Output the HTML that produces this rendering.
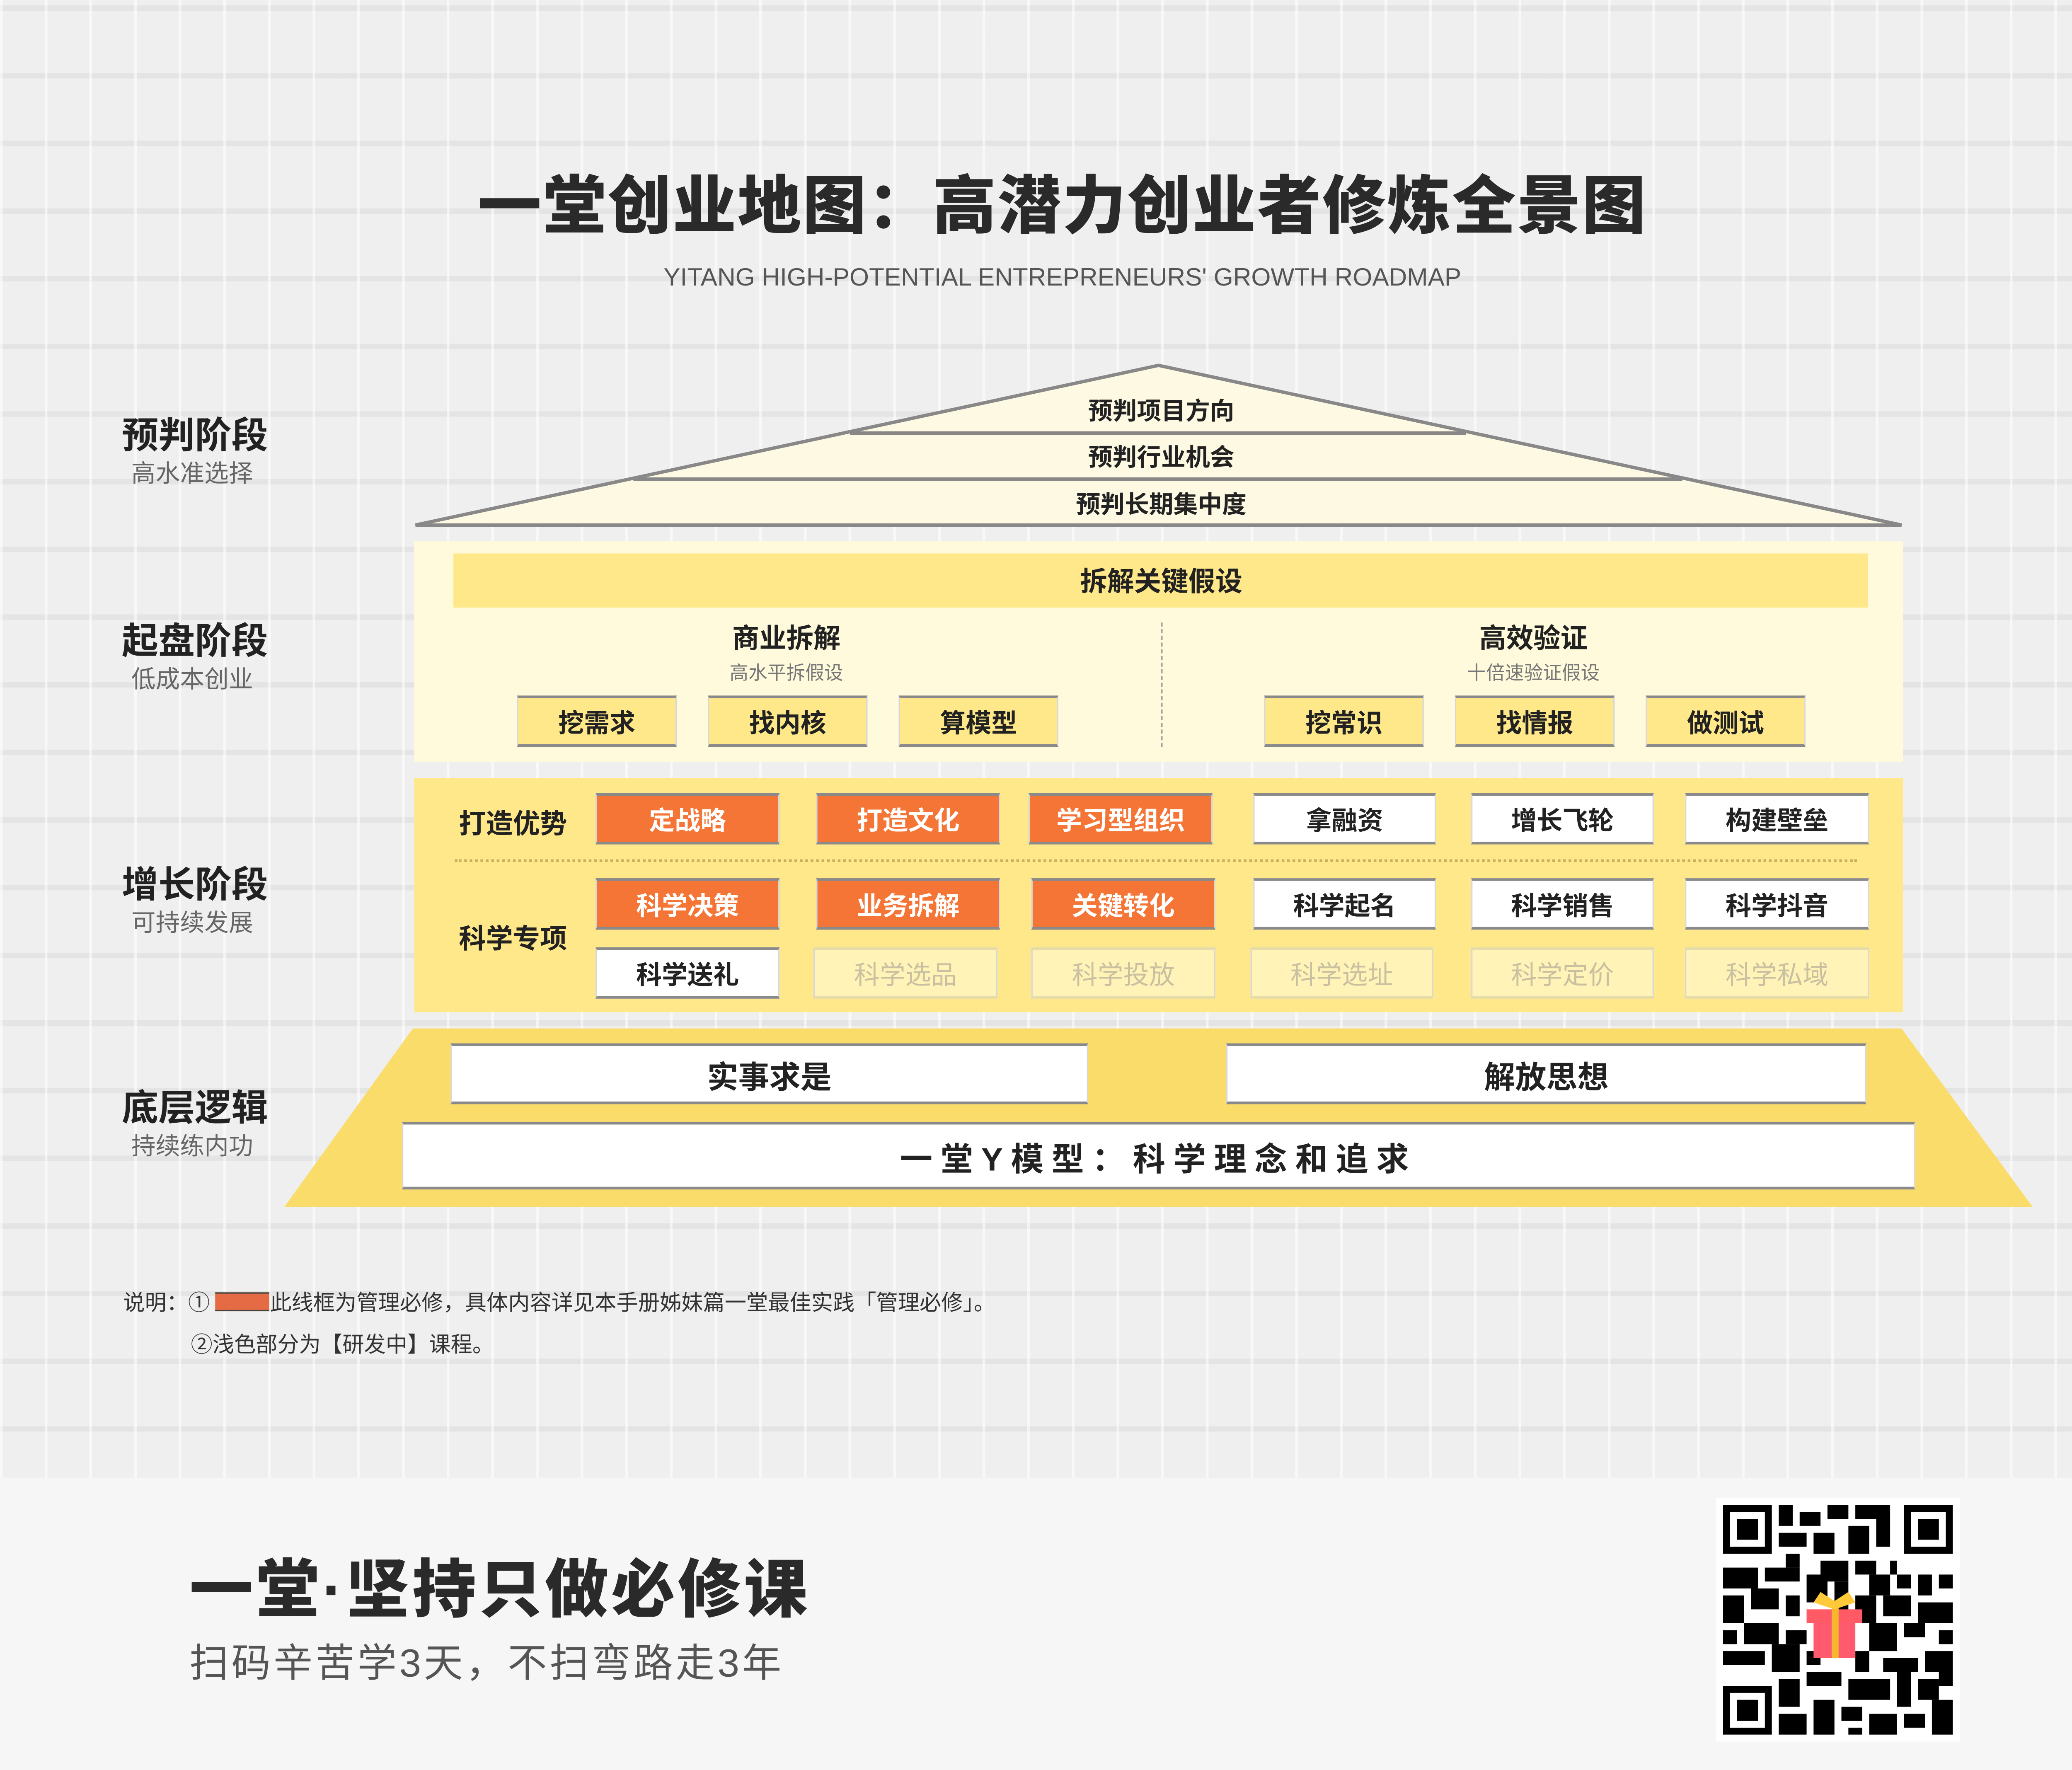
<!DOCTYPE html>
<html><head><meta charset="utf-8"><style>
html,body{margin:0;padding:0;width:5121px;height:4271px;overflow:hidden;background:#f0f0f0}
#w{position:absolute;left:0;top:0;width:1568px;height:1308px;transform-origin:0 0;transform:scale(3.26594,3.26529);font-family:"Liberation Sans","Noto Sans CJK SC",sans-serif;color:#222;
background-color:#efefef;
background-image:repeating-linear-gradient(90deg,rgba(255,255,255,.55) 0 2px,transparent 2px 33px),repeating-linear-gradient(0deg,rgba(225,225,225,.8) 0 4px,transparent 4px 50px)}
.a{position:absolute}
.t{position:absolute;white-space:nowrap;transform:translate(-50%,-50%)}
.b{position:absolute;box-sizing:border-box;border-top:2px solid #8a8a8a;border-bottom:2px solid #8a8a8a;border-left:1px solid #d8d8d8;border-right:1px solid #d8d8d8;display:flex;align-items:center;justify-content:center;font-weight:bold;font-size:19px;color:#222}
.y{background:#ffe88a}
.o{background:#f47535;color:#fff}
.wh{background:#fff}
.lt{background:#fff3b8;color:#c8c0a0;border-top:2px solid #e6dca8;border-bottom:2px solid #e6dca8;font-weight:normal}
.lab{position:absolute;left:90px;font-weight:bold;font-size:27px;color:#222}
.sub{position:absolute;left:97px;font-size:18px;color:#666}
</style></head><body><div id="w">
<div class="t" style="left:785px;top:148px;font-size:47px;font-weight:900;color:#2a2a2a;letter-spacing:1px">一堂创业地图：高潜力创业者修炼全景图</div>
<div class="t" style="left:785px;top:205px;font-size:18.5px;color:#555;letter-spacing:0px">YITANG HIGH-POTENTIAL ENTREPRENEURS' GROWTH ROADMAP</div>

<div class="lab" style="top:300px">预判阶段</div><div class="sub" style="top:336px">高水准选择</div>
<div class="lab" style="top:452px">起盘阶段</div><div class="sub" style="top:488px">低成本创业</div>
<div class="lab" style="top:632px">增长阶段</div><div class="sub" style="top:668px">可持续发展</div>
<div class="lab" style="top:797px">底层逻辑</div><div class="sub" style="top:833px">持续练内功</div>

<svg class="a" style="left:0;top:0" width="1568" height="1308">
<polygon points="856,270 1405,388 307,388" fill="#fdf9e2" stroke="#888" stroke-width="2.5"/>
<line x1="628" y1="320" x2="1083" y2="320" stroke="#888" stroke-width="2.5"/>
<line x1="468" y1="354" x2="1243" y2="354" stroke="#888" stroke-width="2.5"/>
<polygon points="305,760 1405,760 1502,892 210,892" fill="#f9dc6a"/>
</svg>
<div class="t" style="left:858px;top:303px;font-size:18px;font-weight:bold">预判项目方向</div>
<div class="t" style="left:858px;top:337px;font-size:18px;font-weight:bold">预判行业机会</div>
<div class="t" style="left:858px;top:372px;font-size:18px;font-weight:bold">预判长期集中度</div>

<div class="a" style="left:306px;top:400px;width:1100px;height:163px;background:#fffadc"></div>
<div class="a" style="left:335px;top:409px;width:1045px;height:40px;background:#ffe88a"></div>
<div class="t" style="left:858px;top:428px;font-size:20px;font-weight:bold">拆解关键假设</div>
<div class="t" style="left:581px;top:470px;font-size:20px;font-weight:bold">商业拆解</div>
<div class="t" style="left:581px;top:497px;font-size:14px;color:#777">高水平拆假设</div>
<div class="t" style="left:1133px;top:470px;font-size:20px;font-weight:bold">高效验证</div>
<div class="t" style="left:1133px;top:497px;font-size:14px;color:#777">十倍速验证假设</div>
<div class="a" style="left:858px;top:460px;height:92px;border-left:1px dashed #999"></div>
<div class="b y" style="left:382px;top:514px;width:118px;height:38px">挖需求</div>
<div class="b y" style="left:523px;top:514px;width:118px;height:38px">找内核</div>
<div class="b y" style="left:664px;top:514px;width:118px;height:38px">算模型</div>
<div class="b y" style="left:934px;top:514px;width:118px;height:38px">挖常识</div>
<div class="b y" style="left:1075px;top:514px;width:118px;height:38px">找情报</div>
<div class="b y" style="left:1216px;top:514px;width:118px;height:38px">做测试</div>

<div class="a" style="left:306px;top:575px;width:1100px;height:173px;background:#ffe88a"></div>
<div class="t" style="left:379px;top:607px;font-size:20px;font-weight:bold">打造优势</div>
<div class="t" style="left:379px;top:692px;font-size:20px;font-weight:bold">科学专项</div>
<div class="a" style="left:336px;top:635px;width:1036px;border-top:2px dotted #c8b060"></div>
<div class="b o" style="left:440px;top:586px;width:136px;height:38px">定战略</div>
<div class="b o" style="left:603px;top:586px;width:136px;height:38px">打造文化</div>
<div class="b o" style="left:760px;top:586px;width:136px;height:38px">学习型组织</div>
<div class="b wh" style="left:926px;top:586px;width:135px;height:38px">拿融资</div>
<div class="b wh" style="left:1087px;top:586px;width:135px;height:38px">增长飞轮</div>
<div class="b wh" style="left:1245px;top:586px;width:136px;height:38px">构建壁垒</div>
<div class="b o" style="left:440px;top:649px;width:136px;height:38px">科学决策</div>
<div class="b o" style="left:603px;top:649px;width:136px;height:38px">业务拆解</div>
<div class="b o" style="left:762px;top:649px;width:136px;height:38px">关键转化</div>
<div class="b wh" style="left:926px;top:649px;width:135px;height:38px">科学起名</div>
<div class="b wh" style="left:1087px;top:649px;width:135px;height:38px">科学销售</div>
<div class="b wh" style="left:1245px;top:649px;width:136px;height:38px">科学抖音</div>
<div class="b wh" style="left:440px;top:700px;width:136px;height:38px">科学送礼</div>
<div class="b lt" style="left:601px;top:700px;width:136px;height:38px">科学选品</div>
<div class="b lt" style="left:762px;top:700px;width:136px;height:38px">科学投放</div>
<div class="b lt" style="left:924px;top:700px;width:135px;height:38px">科学选址</div>
<div class="b lt" style="left:1087px;top:700px;width:135px;height:38px">科学定价</div>
<div class="b lt" style="left:1245px;top:700px;width:136px;height:38px">科学私域</div>

<div class="b wh" style="left:333px;top:771px;width:471px;height:45px;font-size:23px">实事求是</div>
<div class="b wh" style="left:906px;top:771px;width:473px;height:45px;font-size:23px">解放思想</div>
<div class="b wh" style="left:297px;top:829px;width:1118px;height:50px;font-size:24px;letter-spacing:6px">一堂Y模型：科学理念和追求</div>

<div class="a" style="left:91px;top:949px;font-size:16px;color:#333">说明：① <span style="display:inline-block;width:40px;height:12px;background:#e56b44;border-top:1px solid #444;border-bottom:1px solid #444;vertical-align:-1px"></span>此线框为管理必修，具体内容详见本手册姊妹篇一堂最佳实践「管理必修」。</div>
<div class="a" style="left:141px;top:980px;font-size:16px;color:#333">②浅色部分为【研发中】课程。</div>

<div class="a" style="left:0;top:1092px;width:1568px;height:216px;background:#f6f6f6"></div>
<div class="a" style="left:140px;top:1136px;font-size:47px;font-weight:900;color:#2a2a2a;letter-spacing:2px">一堂·坚持只做必修课</div>
<div class="a" style="left:140px;top:1206px;font-size:29px;color:#555;letter-spacing:2px">扫码辛苦学3天，不扫弯路走3年</div>

<svg class="a" style="left:1268px;top:1107px" width="180" height="180" viewBox="-1 -1 35 35">
<rect x="-1" y="-1" width="35" height="35" fill="#fff"/>
<g fill="#000">
<path d="M0 0h7v7h-7zM1 1v5h5v-5zM2 2h3v3h-3z" fill-rule="evenodd"/>
<path d="M26 0h7v7h-7zM27 1v5h5v-5zM28 2h3v3h-3z" fill-rule="evenodd"/>
<path d="M0 26h7v7h-7zM1 27v5h5v-5zM2 28h3v3h-3z" fill-rule="evenodd"/>
<rect x="8" y="0" width="2" height="3"/><rect x="11" y="1" width="3" height="2"/><rect x="15" y="0" width="3" height="2"/><rect x="19" y="0" width="5" height="2"/><rect x="22" y="2" width="2" height="4"/><rect x="8" y="4" width="4" height="2"/><rect x="13" y="4" width="3" height="3"/><rect x="18" y="3" width="3" height="4"/><rect x="9" y="7" width="2" height="2"/><rect x="14" y="8" width="4" height="3"/><rect x="19" y="8" width="3" height="2"/><rect x="24" y="8" width="1" height="2"/>
<rect x="0" y="9" width="5" height="3"/><rect x="6" y="9" width="5" height="2"/><rect x="12" y="10" width="3" height="4"/><rect x="16" y="11" width="2" height="5"/><rect x="21" y="10" width="3" height="3"/><rect x="25" y="10" width="2" height="2"/><rect x="28" y="10" width="2" height="3"/><rect x="31" y="10" width="2" height="2"/>
<rect x="0" y="13" width="3" height="4"/><rect x="4" y="12" width="4" height="3"/><rect x="9" y="13" width="2" height="3"/><rect x="19" y="13" width="3" height="4"/><rect x="23" y="13" width="4" height="3"/><rect x="28" y="14" width="5" height="3"/>
<rect x="0" y="18" width="2" height="2"/><rect x="3" y="17" width="5" height="3"/><rect x="9" y="18" width="3" height="2"/><rect x="21" y="17" width="4" height="4"/><rect x="26" y="17" width="3" height="2"/><rect x="31" y="18" width="2" height="2"/>
<rect x="0" y="21" width="6" height="2"/><rect x="7" y="20" width="4" height="4"/><rect x="12" y="21" width="2" height="2"/><rect x="19" y="21" width="2" height="3"/><rect x="23" y="22" width="5" height="2"/><rect x="29" y="21" width="4" height="3"/>
<rect x="8" y="25" width="3" height="4"/><rect x="12" y="24" width="5" height="2"/><rect x="18" y="25" width="6" height="3"/><rect x="25" y="24" width="2" height="5"/><rect x="28" y="25" width="3" height="3"/><rect x="31" y="24" width="2" height="2"/>
<rect x="8" y="30" width="4" height="3"/><rect x="13" y="28" width="3" height="5"/><rect x="17" y="29" width="3" height="2"/><rect x="21" y="30" width="4" height="3"/><rect x="26" y="30" width="3" height="2"/><rect x="30" y="28" width="3" height="5"/><rect x="18" y="32" width="2" height="1"/>
</g>
<rect x="12" y="15" width="8" height="2" fill="#ff5a65"/><rect x="13" y="17" width="6" height="5" fill="#ff5a6e"/><rect x="15.6" y="14" width="1" height="8" fill="#f5b72d"/><path d="M13 14l3 1l3-1l-1-1.5l-2 1.3l-2-1.3z" fill="#ffc93a"/>
</svg>
</div></body></html>
